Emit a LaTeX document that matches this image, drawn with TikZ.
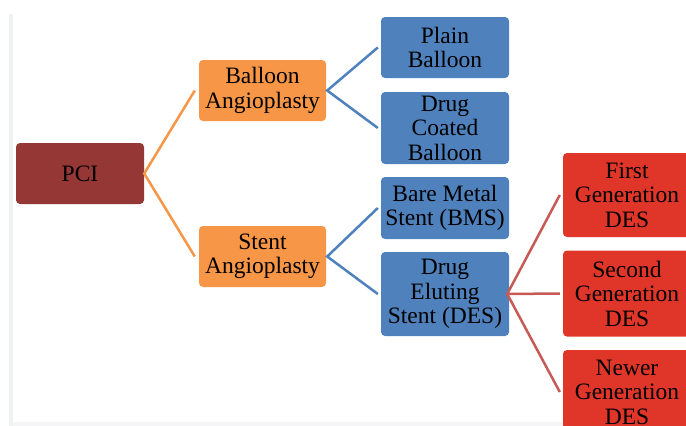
\documentclass[tikz,border=0pt]{standalone}
\usepackage{fontspec}
\setmainfont{Liberation Serif}
\newfontfamily\boxfont{Liberation Serif}
\definecolor{pcired}{HTML}{953735}
\definecolor{orangebox}{HTML}{F79646}
\definecolor{bluebox}{HTML}{4F81BD}
\definecolor{redbox}{HTML}{E0362A}
\definecolor{redline}{HTML}{C75A55}
\definecolor{stripgray}{HTML}{F0F1F3}
\begin{document}
\begin{tikzpicture}[x=1pt,y=-1pt,
  box/.style={rounded corners=4pt,align=center,inner sep=0pt,
    font=\boxfont\fontsize{23.5}{24.5}\selectfont,text=black},
  pcibox/.style={box,fill=pcired,minimum width=128pt,minimum height=61pt},
  obox/.style={box,fill=orangebox,minimum width=127pt,minimum height=61pt},
  bbox/.style={box,fill=bluebox,minimum width=128pt},
  rbox/.style={box,fill=redbox,minimum width=128pt,minimum height=84pt},
  oline/.style={orangebox,line width=2.5pt},
  bline/.style={bluebox,line width=2.5pt},
  rline/.style={redline,line width=2.5pt}]
\useasboundingbox (0,0) rectangle (686,426);
\fill[white] (0,0) rectangle (686,426);
\fill[stripgray] (9,14) rectangle (13,426);
\fill[stripgray!70] (13,422) rectangle (686,426);
\node[pcibox] (pci) at (80,173.5) {PCI};
\node[obox] (ball) at (262.5,90.5) {Balloon\\Angioplasty};
\node[obox] (stent) at (262.5,256.5) {Stent\\Angioplasty};
\node[bbox,minimum height=61pt] (plain) at (445,47.5) {Plain\\Balloon};
\node[bbox,minimum height=72pt] (dcb) at (445,128) {Drug\\Coated\\Balloon};
\node[bbox,minimum height=62pt] (bms) at (445,208) {Bare Metal\\Stent (BMS)};
\node[bbox,minimum height=84pt] (des) at (445,294) {Drug\\Eluting\\Stent (DES)};
\node[rbox] (first) at (627,195) {First\\Generation\\DES};
\node[rbox,minimum height=86pt] (second) at (627,293.5) {Second\\Generation\\DES};
\node[rbox] (newer) at (627,392) {Newer\\Generation\\DES};
\draw[oline] ([xshift=-4pt]ball.west) -- (pci.east) -- ([xshift=-4pt]stent.west);
\draw[bline] ([xshift=-3pt]plain.west) -- ([xshift=1pt]ball.east) -- ([xshift=-3pt]dcb.west);
\draw[bline] ([xshift=-3pt]bms.west) -- ([xshift=1pt]stent.east) -- ([xshift=-3pt]des.west);
\draw[rline] ([xshift=-3pt]first.west) -- ([xshift=-2pt]des.east) -- ([xshift=-3pt]newer.west);
\draw[rline] ([xshift=-2pt]des.east) -- ([xshift=-3pt]second.west);
\end{tikzpicture}
\end{document}
